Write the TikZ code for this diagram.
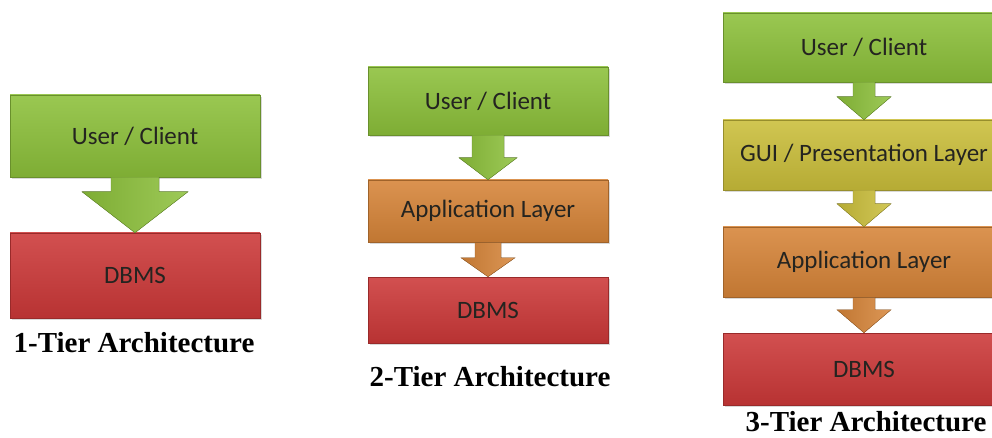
\documentclass[tikz,border=0pt]{standalone}
\usepackage{fontspec}
\setmainfont{Liberation Serif}
\newfontfamily\boxfont{Carlito}
\usepackage{tikz}
\usetikzlibrary{calc}
\usetikzlibrary{shadows}

\definecolor{tiergreen}{RGB}{140,192,58}
\definecolor{tieryellow}{RGB}{202,190,58}
\definecolor{tierorange}{RGB}{214,132,56}
\definecolor{tierred}{RGB}{204,56,56}
\definecolor{tiertext}{RGB}{36,36,32}

\tikzset{
  tier/.style={rectangle, draw=#1!75!black, line width=0.5pt,
    top color=#1!88!white, bottom color=#1!90!black,
    drop shadow={shadow xshift=2pt, shadow yshift=-2pt, opacity=.3},
    text=tiertext, font=\boxfont\fontsize{25}{28}\selectfont},
  tiertitle/.style={font=\bfseries\fontsize{29}{32}\selectfont, text=black, inner sep=0pt}
}

% block arrow: source, target, shaft half width, head half width, head length, colour
\newcommand{\tierarrow}[6]{%
  \filldraw[draw=#6!75!black, left color=#6!90!black, right color=#6!85!white]
    ($(#1.south)+(-#3,0)$) -- ($(#2.north)+(-#3,-#5)$) -- ($(#2.north)+(-#4,-#5)$)
    -- (#2.north) -- ($(#2.north)+(#4,-#5)$) -- ($(#2.north)+(#3,-#5)$)
    -- ($(#1.south)+(#3,0)$) -- cycle;}

\begin{document}
\begin{tikzpicture}[x=1pt, y=-1pt]
\clip (0,0) rectangle (992,438);

%1-tier
\node[tier=tiergreen, minimum width=250pt, minimum height=82pt] (uc1) at (135,136) {User / Client};
\node[tier=tierred, minimum width=250pt, minimum height=85pt] (db1) at (135,275.5) {DBMS};
\tierarrow{uc1}{db1}{24}{53}{41}{tiergreen}
\node[tiertitle] (t1) at (134,343) {1-Tier Architecture};

%2-tier
\node[tier=tiergreen, minimum width=240pt, minimum height=68pt] (uc2) at (488,101) {User / Client};
\node[tier=tierorange, minimum width=240pt, minimum height=62pt] (app2) at (488,211) {Application Layer};
\node[tier=tierred, minimum width=240pt, minimum height=66pt] (db2) at (488,310) {DBMS};
\tierarrow{uc2}{app2}{16}{29}{22}{tiergreen}
\tierarrow{app2}{db2}{13}{27}{19}{tierorange}
\node[tiertitle] (t2) at (490,377) {2-Tier Architecture};

%3-tier
\node[tier=tiergreen, minimum width=282pt, minimum height=69pt] (uc3) at (864,47.5) {User / Client};
\node[tier=tieryellow, minimum width=282pt, minimum height=70pt] (gui3) at (864,155) {GUI / Presentation Layer};
\node[tier=tierorange, minimum width=282pt, minimum height=70pt] (app3) at (864,262) {Application Layer};
\node[tier=tierred, minimum width=282pt, minimum height=72pt] (db3) at (864,369) {DBMS};
\tierarrow{uc3}{gui3}{11}{27}{23}{tiergreen}
\tierarrow{gui3}{app3}{11}{27}{23}{tieryellow}
\tierarrow{app3}{db3}{11}{27}{23}{tierorange}
\node[tiertitle] (t3) at (866,422) {3-Tier Architecture};
\end{tikzpicture}
\end{document}
